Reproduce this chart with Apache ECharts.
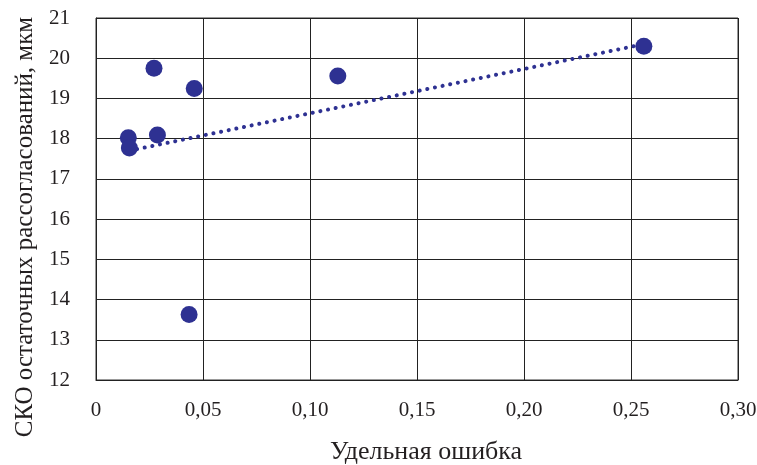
<!DOCTYPE html>
<html><head><meta charset="utf-8">
<script src="https://cdn.jsdelivr.net/npm/echarts@6/dist/echarts.min.js"></script>
<style>html,body{margin:0;padding:0;background:#fff}#c{width:757px;height:465px}</style>
</head><body><div id="c"></div>
<script>
const xValues = [0.0151, 0.0156, 0.0271, 0.0459, 0.0287, 0.113, 0.0435, 0.256];
const yValues = [18.02, 17.77, 19.75, 19.25, 18.09, 19.56, 13.63, 20.30];
const trendX = [0.0156, 0.256];
const trendY = [17.70, 20.35];
const xTitle = 'Удельная ошибка';
const yTitle = 'СКО остаточных рассогласований, мкм';

const pts = xValues.map((x, i) => [x, yValues[i]]);
const trend = trendX.map((x, i) => [x, trendY[i]]);
const color = '#2E3192';
const font = 'Liberation Serif';
const textColor = '#231f20';

const chart = echarts.init(document.getElementById('c'));
chart.setOption({
  animation: false,
  grid: {left: 96, right: 19, top: 18, bottom: 85, show: true, borderColor: '#333', borderWidth: 1,
         containLabel: false, outerBoundsMode: 'none'},
  graphic: [
    {type: 'text', x: 426, y: 452, z: 10,
     style: {text: xTitle, font: '26px "Liberation Serif"', fill: textColor, align: 'center', verticalAlign: 'middle'}},
    {type: 'text', x: 25, y: 227, rotation: Math.PI / 2, z: 10,
     style: {text: yTitle, font: '25px "Liberation Serif"', fill: textColor, align: 'center', verticalAlign: 'middle'}}
  ],
  xAxis: {
    type: 'value', min: 0, max: 0.3, interval: 0.05,
    axisLine: {show: true, lineStyle: {color: '#222'}},
    axisTick: {show: false},
    splitLine: {show: true, lineStyle: {color: '#222', width: 1}},
    axisLabel: {fontFamily: font, fontSize: 21, color: textColor, margin: 20,
      formatter: v => v === 0 ? '0' : v.toFixed(2).replace('.', ',')}
  },
  yAxis: {
    type: 'value', min: 12, max: 21, interval: 1,
    axisLine: {show: true, lineStyle: {color: '#222'}},
    axisTick: {show: false},
    splitLine: {show: true, lineStyle: {color: '#222', width: 1}},
    axisLabel: {fontFamily: font, fontSize: 21, color: textColor, margin: 26}
  },
  series: [
    {type: 'line', data: trend, showSymbol: false, symbol: 'none',
     lineStyle: {color: color, width: 4, type: [0.1, 7.7], cap: 'round'}, z: 2},
    {type: 'scatter', data: pts, symbolSize: 17, itemStyle: {color: color, opacity: 1}, z: 3}
  ]
});
</script></body></html>
